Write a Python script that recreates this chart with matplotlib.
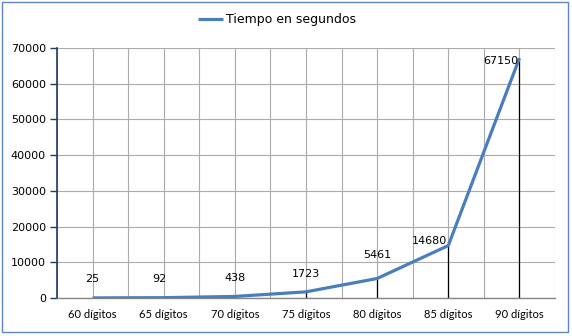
import matplotlib
matplotlib.use("Agg")
import matplotlib.pyplot as plt
from matplotlib.patches import Rectangle
import numpy as np

# datos del gráfico
categorias = ["60 dígitos", "65 dígitos", "70 dígitos", "75 dígitos",
              "80 dígitos", "85 dígitos", "90 dígitos"]
tiempos = [25, 92, 438, 1723, 5461, 14680, 67150]
etiquetas_y = [0, 10000, 20000, 30000, 40000, 50000, 60000, 70000]

# desplazamiento de las etiquetas de datos (en puntos)
offsets = [(0, 10), (-3, 10), (0, 10), (0, 9), (0, 13), (-1, 3), (-1, -2)]
alineacion = ["center", "center", "center", "center", "center", "right", "right"]

fig = plt.figure(figsize=(5.72, 3.36), dpi=100)
ax = fig.add_axes([57 / 572, 1 - 298 / 336, (555 - 57) / 572, 250 / 336])

x = np.arange(len(categorias))

# lineas de caida (negras) desde el punto hasta el eje
ax.vlines(x, 0, tiempos, colors="black", linewidth=0.9, zorder=2)

linea, = ax.plot(x, tiempos, color="#4a7ebb", linewidth=2.3, zorder=3,
                 solid_capstyle="butt", label="Tiempo en segundos")

for xi, v, off, ha in zip(x, tiempos, offsets, alineacion):
    ax.annotate(str(v), (xi, v), xytext=off, textcoords="offset points",
                ha=ha, va="bottom" if ha == "center" else "center",
                fontsize=8, family="DejaVu Sans", color="black", zorder=4)

ax.set_xlim(-0.5, len(categorias) - 0.5)
ax.set_ylim(0, 70000)
ax.set_yticks(etiquetas_y)
ax.set_yticklabels([str(v) for v in etiquetas_y], fontsize=8, family="DejaVu Sans")
ax.set_xticks(x)
ax.set_xticklabels(categorias, fontsize=8, family="Lato")
ax.set_xticks(np.arange(-0.5, len(categorias), 1.0), minor=True)
ax.tick_params(axis="x", which="both", length=0, pad=8)
ax.tick_params(axis="y", length=5, color="#1f3b64", width=1, pad=3)

ax.grid(True, which="both", axis="x", color="#ababab", linewidth=0.8, zorder=1)
ax.grid(True, which="major", axis="y", color="#ababab", linewidth=0.8, zorder=1)
ax.set_axisbelow(True)

for s in ["top", "right"]:
    ax.spines[s].set_visible(False)
ax.spines["left"].set_color("#1f3b64")
ax.spines["left"].set_linewidth(1.2)
ax.spines["bottom"].set_color("#868686")
ax.spines["bottom"].set_linewidth(1)

fig.legend(handles=[linea], loc="center", bbox_to_anchor=(277 / 572, 1 - 20 / 336),
           frameon=False, handlelength=2.0, handletextpad=0.2,
           prop={"family": "DejaVu Sans", "size": 9})

# borde exterior del gráfico
fig.patches.append(Rectangle((2 / 572, 4 / 336), 566 / 572, 330 / 336,
                             transform=fig.transFigure, fill=False,
                             edgecolor="#5f86bd", linewidth=1))

fig.savefig("out.png", dpi=100)
